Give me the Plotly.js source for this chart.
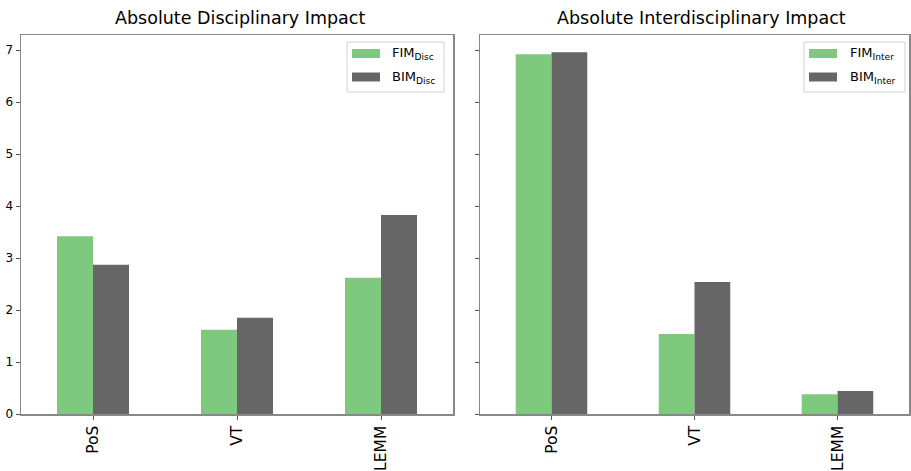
<!DOCTYPE html>
<html><head><meta charset="utf-8">
<script src="https://cdn.plot.ly/plotly-3.0.1.min.js"></script>
<style>body{margin:0;padding:0;background:#fff}</style>
</head><body><div id="chart" style="width:911px;height:471px"></div>
<script>
const categories = ["PoS", "VT", "LEMM"];
const fimDisc = [3.42, 1.62, 2.62];
const bimDisc = [2.87, 1.85, 3.83];
const fimInter = [6.92, 1.54, 0.38];
const bimInter = [6.96, 2.54, 0.44];
const yTicks = [0, 1, 2, 3, 4, 5, 6, 7];
const legendDisc = ["FIM<sub>Disc</sub>", "BIM<sub>Disc</sub>"];
const legendInter = ["FIM<sub>Inter</sub>", "BIM<sub>Inter</sub>"];

const green = "#7fc97f", grey = "#666666";
const font = {family: "DejaVu Sans", color: "#000"};
const traces = [
  {type:"bar", x:categories, y:fimDisc, name:legendDisc[0], marker:{color:green}, xaxis:"x", yaxis:"y"},
  {type:"bar", x:categories, y:bimDisc, name:legendDisc[1], marker:{color:grey}, xaxis:"x", yaxis:"y"},
  {type:"bar", x:categories, y:fimInter, name:legendInter[0], marker:{color:green}, xaxis:"x2", yaxis:"y2"},
  {type:"bar", x:categories, y:bimInter, name:legendInter[1], marker:{color:grey}, xaxis:"x2", yaxis:"y2"}
];
const W = 888, H = 379, L = 21, B = 414;
const px = (x) => (x - L) / W;
const py = (y) => (B - y) / H;
const xax = (d) => ({domain:d, range:[-0.5,2.5], showline:true, mirror:true, linecolor:"#888", linewidth:1.5,
  ticks:"outside", ticklen:4, tickcolor:"#555", tickangle:-90, tickfont:{family:"DejaVu Sans", size:15.5, color:"#000"}, showgrid:false});
const yax = (labels, anchor) => ({range:[0,7.29], tickvals:yTicks, showticklabels:labels, showline:true, mirror:true,
  linecolor:"#888", linewidth:1.5, ticks:"outside", ticklen:4, tickcolor:"#555", showgrid:false, zeroline:false,
  tickfont:{family:"DejaVu Sans", size:12, color:"#000"}, anchor:anchor});

const shapes = [], annotations = [];
function legendBox(x0, x1, names, textX) {
  shapes.push({type:"rect", xref:"paper", yref:"paper", x0:px(x0), x1:px(x1), y0:py(92), y1:py(42),
    line:{color:"#d0d0d0", width:1}, fillcolor:"rgba(255,255,255,0.9)", layer:"above"});
  const cols = [green, grey], ys = [53.5, 77];
  names.forEach((n, i) => {
    shapes.push({type:"rect", xref:"paper", yref:"paper", x0:px(x0 + 5), x1:px(x0 + 33), y0:py(ys[i] + 4.5), y1:py(ys[i] - 4.5),
      line:{width:0}, fillcolor:cols[i], layer:"above"});
    annotations.push({text:n, xref:"paper", yref:"paper", x:px(textX), y:py(ys[i]), xanchor:"left", yanchor:"middle",
      showarrow:false, font:{family:"DejaVu Sans", size:13, color:"#000"}, borderpad:0});
  });
}
legendBox(347, 444, legendDisc, 391);
legendBox(804, 905, legendInter, 849);
annotations.push(
  {text:"Absolute Disciplinary Impact", xref:"paper", yref:"paper", x:(240-L)/W, xanchor:"center", y:1, yshift:5, yanchor:"bottom", showarrow:false, font:{family:"DejaVu Sans", size:17.5, color:"#000"}},
  {text:"Absolute Interdisciplinary Impact", xref:"paper", yref:"paper", x:(701-L)/W, xanchor:"center", y:1, yshift:5, yanchor:"bottom", showarrow:false, font:{family:"DejaVu Sans", size:17.5, color:"#000"}}
);
const layout = {
  width:911, height:471, margin:{l:21, r:2, t:35, b:57},
  paper_bgcolor:"#fff", plot_bgcolor:"#fff", font:font,
  barmode:"group", bargap:0.5, bargroupgap:0,
  xaxis: xax([0, 432/W]), yaxis: yax(true, "x"),
  xaxis2: Object.assign(xax([459/W, 1]), {anchor:"y2"}), yaxis2: yax(false, "x2"),
  showlegend:false, shapes:shapes, annotations:annotations
};
Plotly.newPlot("chart", traces, layout, {staticPlot:true});
</script></body></html>
